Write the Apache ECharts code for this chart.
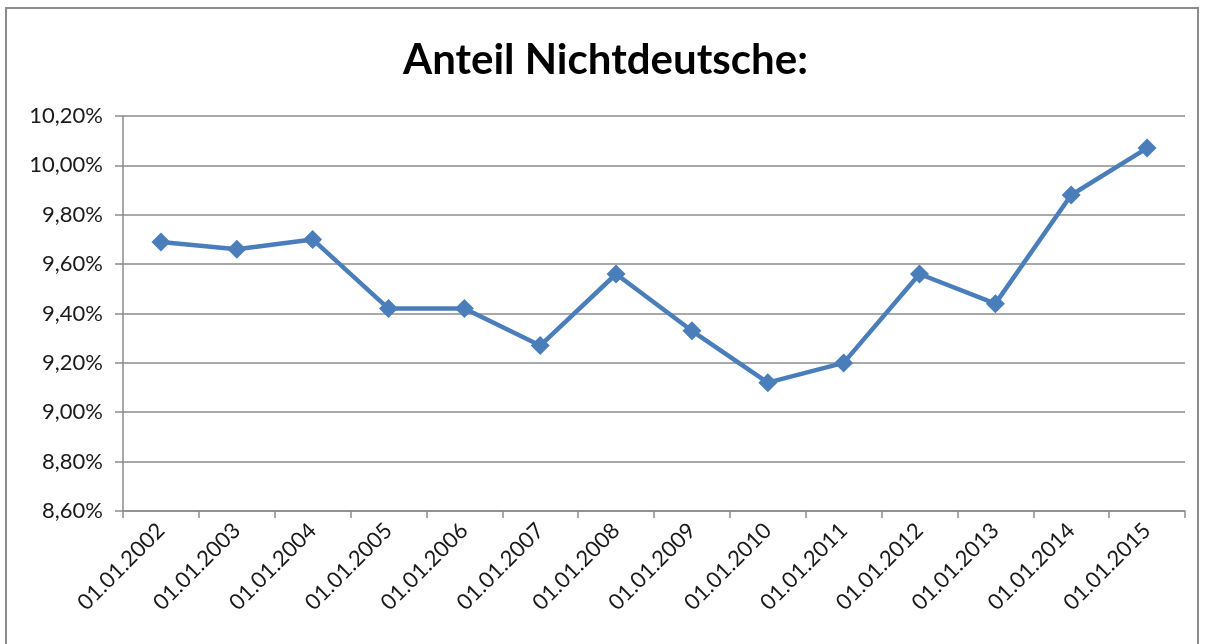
<!DOCTYPE html>
<html>
<head>
<meta charset="utf-8">
<script src="https://cdn.jsdelivr.net/npm/echarts@6/dist/echarts.min.js"></script>
<style>
  html, body { margin: 0; padding: 0; background: #fff; }
  #frame { position: absolute; left: 5px; top: 7px; width: 1194px; height: 700px; border: 2px solid #8c8c8c; box-sizing: border-box; }
  #chart { position: absolute; left: 0; top: 0; width: 1211px; height: 644px; }
</style>
</head>
<body>
<div id="frame"></div>
<div id="chart"></div>
<script>
const categories = ['01.01.2002', '01.01.2003', '01.01.2004', '01.01.2005', '01.01.2006', '01.01.2007', '01.01.2008',
  '01.01.2009', '01.01.2010', '01.01.2011', '01.01.2012', '01.01.2013', '01.01.2014', '01.01.2015'];
const anteil = [9.69, 9.66, 9.70, 9.42, 9.42, 9.27, 9.56, 9.33, 9.12, 9.20, 9.56, 9.44, 9.88, 10.07];
const yMin = 8.6, yMax = 10.2, yStep = 0.2;

const font = 'Lato, "Open Sans", sans-serif';
let myChart = echarts.init(document.getElementById('chart'), null, { width: 1211, height: 644 });
let option = {
  animation: false,
  title: {
    text: 'Anteil Nichtdeutsche:',
    left: 'center',
    top: 34,
    textStyle: { fontFamily: font, fontSize: 42, fontWeight: 'bold', color: '#000' }
  },
  grid: { left: 123, right: 26, top: 116, bottom: 133 },
  xAxis: {
    type: 'category',
    boundaryGap: true,
    data: categories,
    axisLine: { lineStyle: { color: '#8c8c8c', width: 1.5 } },
    axisTick: { show: true, length: 7, lineStyle: { color: '#8c8c8c', width: 1.5 } },
    axisLabel: { rotate: 45, margin: 16, fontFamily: font, fontSize: 22, color: '#1a1a1a', interval: 0 }
  },
  yAxis: {
    type: 'value',
    min: yMin, max: yMax, interval: yStep,
    axisLine: { show: true, lineStyle: { color: '#8c8c8c', width: 1.5 } },
    axisTick: { show: true, inside: false, length: 8, lineStyle: { color: '#8c8c8c', width: 1.5 } },
    splitLine: { lineStyle: { color: '#8c8c8c', width: 1.5 } },
    axisLabel: {
      margin: 20, fontFamily: font, fontSize: 22, color: '#1a1a1a',
      formatter: v => v.toFixed(2).replace('.', ',') + '%'
    }
  },
  series: [{
    name: 'Anteil',
    type: 'line',
    data: anteil,
    symbol: 'diamond',
    symbolSize: 19,
    lineStyle: { color: '#4a7ebb', width: 4.5 },
    itemStyle: { color: '#4a7ebb' }
  }]
};
myChart.setOption(option);
</script>
</body>
</html>
